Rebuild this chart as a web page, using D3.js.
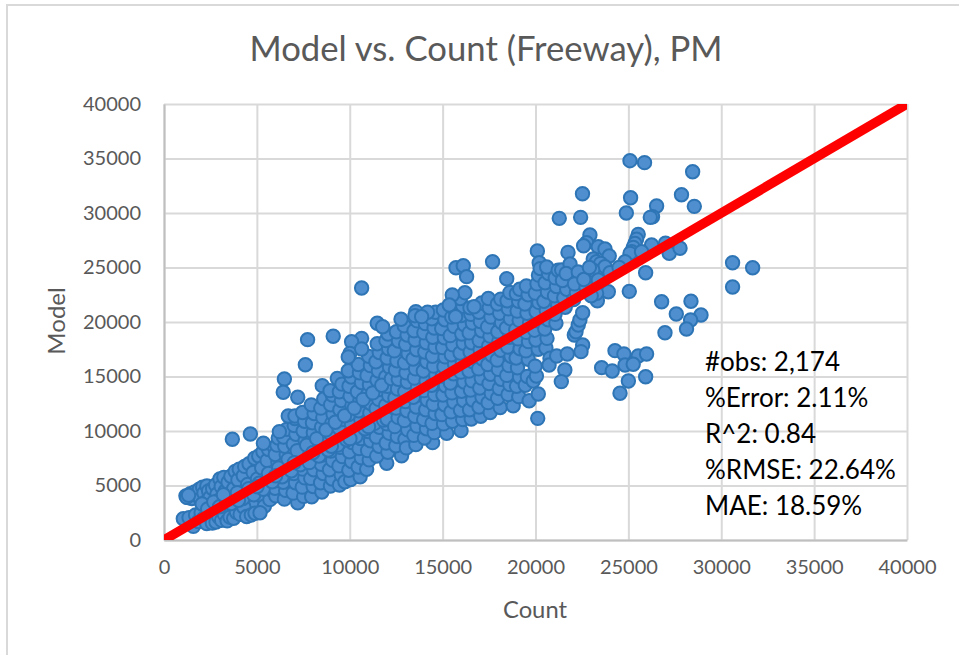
<!DOCTYPE html>
<html>
<head>
<meta charset="utf-8">
<script src="https://cdn.jsdelivr.net/npm/d3@7"></script>
<style>
html, body { margin: 0; padding: 0; background: #fff; }
svg { display: block; font-family: Lato, "Open Sans", sans-serif; }
</style>
</head>
<body>
<div id="chart"></div>
<script>
// Chart text and ticks
const chartTitle = "Model vs. Count (Freeway), PM";
const xLabel = "Count";
const yLabel = "Model";
const tickValues = [0, 5000, 10000, 15000, 20000, 25000, 30000, 35000, 40000];
const statLines = ["#obs: 2,174", "%Error: 2.11%", "R^2: 0.84", "%RMSE: 22.64%", "MAE: 18.59%"];
const referenceLine = [0, 40000];

// Points as [count, model] in groups
const pointsUnder6k = [
  [1180,4050],[1290,3900],[1420,4250],[1500,3800],[1650,4400],[1780,4150],[1900,4650],[1960,3750],[2080,4850],[2150,4300],
  [2240,3500],[2310,4950],[2400,4500],[2480,3900],[2550,3100],[2620,4700],[2700,2600],[2780,5050],[2850,4200],[2920,3600],
  [3010,5600],[3080,4900],[3150,3300],[3220,5750],[3300,4500],[3380,2800],[3450,5300],[3520,3950],[3600,5850],[3680,2400],
  [3750,4700],[3830,6300],[3900,3300],[3980,5500],[4050,6500],[4120,4250],[4190,2900],[4270,5900],[4340,6750],[4420,3600],
  [4500,5100],[4580,7000],[4650,2700],[4720,4500],[4800,6200],[4880,7500],[4950,3400],[5030,5600],[5100,7700],[5180,4100],
  [5260,6600],[5330,8100],[5400,3100],[5480,5000],[5550,7300],[5630,8300],[5700,3700],[5780,5900],[5860,4500],[5940,8500],
  [1040,1950],[1350,2050],[1580,1250],[1700,2300],[1850,1700],[2000,2500],[2120,1950],[2300,1500],[2420,2200],[2600,1550],
  [2800,1650],[2950,2100],[3100,1800],[3250,2350],[3400,1750],[3550,2100],[3750,2000],[3900,2550],[4100,2350],[4300,3000],
  [4450,2150],[4700,2300],[4900,2450],[5170,2500],[1220,3920],[1320,4100],[3680,9240],[4650,9720],[5350,8870]
];

const points6kTo12k = [
  [6020,4050],[5980,4750],[6100,5450],[6040,6300],[6130,7150],[5990,7850],[6080,8700],[6150,9350],
  [6480,3750],[6550,4550],[6420,5300],[6530,6250],[6460,6950],[6580,7850],[6500,8600],[6430,9450],[6600,10150],[6210,9940],
  [7200,3420],[6950,4300],[7080,5250],[6990,6100],[7120,7000],[7030,7950],[6960,8800],[7100,9700],[7010,10500],[7050,11150],[6690,11380],[7050,11380],
  [7520,4000],[7440,4850],[7580,5700],[7470,6500],[7550,7400],[7430,8300],[7600,9100],[7490,10000],[7570,10900],[7460,11700],
  [7950,3970],[8030,4900],[7900,5650],[8060,6450],[7970,7350],[8100,8150],[7920,9050],[8040,9850],[7990,10750],[8080,11600],[7930,12400],
  [8500,4400],[8430,5250],[8570,6100],[8460,6950],[8530,7800],[8410,8700],[8590,9500],[8480,10350],[8550,11250],[8440,12100],[8520,14160],[8600,12950],
  [8960,4950],[9050,5600],[8910,6450],[9080,7300],[8980,8150],[9120,9000],[8940,9800],[9030,10700],[9100,11550],[8970,12400],[9060,13300],[8940,13700],
  [9450,5050],[9540,5950],[9420,6800],[9600,7650],[9480,8500],[9560,9400],[9430,10250],[9590,11050],[9470,11950],[9550,12800],[9440,13600],[9330,14830],[9580,14300],
  [9740,5350],[10050,5550],[9950,6400],[10100,7200],[9980,8100],[10130,8950],[10000,9800],[10090,10650],[9940,11500],[10120,12350],[10020,13200],[9960,14100],[10080,14950],[9920,15530],
  [10560,5800],[10450,6700],[10620,7550],[10500,8400],[10580,9300],[10430,10150],[10600,11000],[10480,11850],[10540,12750],[10410,13600],[10630,14450],[10520,15350],[10460,16100],
  [10910,6490],[11050,7350],[10960,8200],[11120,9100],[11000,9950],[10940,10800],[11080,11650],[11150,12500],[10980,13400],[11060,14250],[10930,15100],[11110,16000],[11020,16850],
  [11990,7040],[11450,7700],[11580,8600],[11430,9450],[11600,10350],[11500,11200],[11420,12050],[11560,12900],[11620,13800],[11470,14650],[11540,15500],[11410,16350],[11590,17200],[11480,18000],
  [12050,8050],[11960,8900],[12120,9800],[12000,10650],[12070,11500],[11930,12350],[12100,13250],[12020,14100],[11940,14950],[12140,15850],[12010,16700],[12090,17550],[11950,18300],[12060,18900]
];

const points12kTo17k = [
  [12790,7730],[12480,8650],[12560,9500],[12420,10400],[12600,11250],[12500,12100],[12430,13000],[12570,13850],[12610,14750],[12460,15600],[12540,16450],[12400,17350],[12620,18250],[12510,19100],
  [12970,9240],[13050,8450],[13120,10100],[12940,10950],[13080,11850],[13000,12700],[12960,13600],[13100,14500],[13030,15350],[12950,16250],[13140,17100],[13010,17950],[13090,18800],[12930,19650],
  [13560,8750],[13450,9600],[13620,10450],[13500,11350],[13580,12200],[13420,13100],[13640,13950],[13480,14850],[13540,15700],[13410,16600],[13600,17450],[13520,18350],[13460,19200],[13630,20100],
  [14460,8930],[14020,9350],[14130,10200],[13980,11050],[14090,11950],[14170,12850],[14000,13700],[14110,14600],[13960,15500],[14150,16350],[14040,17250],[14120,18100],[13990,19000],[14070,19850],
  [14550,9850],[14430,10700],[14600,11600],[14490,12450],[14570,13350],[14410,14200],[14630,15100],[14520,15950],[14450,16850],[14590,17700],[14470,18600],[14540,19450],[14420,20300],[14620,20900],
  [15220,9790],[15050,10650],[14960,11500],[15110,12400],[15020,13300],[15150,14150],[14980,15050],[15070,15900],[15130,16800],[15000,17650],[15090,18550],[14950,19400],[15120,20200],[15040,21100],
  [15990,10030],[15530,10900],[15450,11750],[15600,12650],[15500,13500],[15420,14400],[15580,15250],[15640,16150],[15470,17000],[15550,17900],[15410,18750],[15610,19600],[15490,20450],[15570,21300],
  [16080,11050],[15960,11900],[16130,12800],[16020,13650],[16150,14500],[15980,15400],[16060,16300],[15940,17150],[16110,18050],[16030,18900],[16170,19750],[16000,20600],[16090,21450],[15950,22150],
  [16540,11100],[16450,11950],[16620,12850],[16500,13750],[16580,14600],[16420,15500],[16640,16350],[16480,17250],[16560,18100],[16430,19000],[16600,19900],[16520,20700],[16470,21300]
];

const points17kTo22k = [
  [17050,11350],[16960,12200],[17120,13100],[17000,13950],[17080,14850],[16940,15700],[17140,16600],[17020,17450],[16970,18300],[17100,19200],[17030,20050],[16950,20900],[17110,21750],
  [17560,11700],[17450,12600],[17620,13450],[17500,14350],[17580,15200],[17430,16100],[17640,16950],[17480,17800],[17550,18700],[17420,19550],[17600,20450],[17510,21300],[17460,22150],
  [18100,12150],[17960,13000],[18050,13900],[18150,14750],[18000,15650],[17930,16500],[18120,17400],[18030,18250],[17970,19100],[18170,19950],[18070,20800],[17950,21650],[18130,22100],
  [18800,12320],[18520,13350],[18620,14250],[18450,15100],[18570,16000],[18680,16850],[18500,17700],[18600,18600],[18430,19450],[18650,20300],[18540,21200],[18470,21950],[18620,22700],
  [19100,13150],[18980,14100],[19140,14950],[19030,15800],[18960,16700],[19170,17550],[19060,18450],[18940,19300],[19120,20150],[19010,21000],[19090,21900],[18970,22600],[19150,23000],
  [19660,12780],[19450,14200],[19560,15000],[19880,14590],[19610,16580],[19480,17350],[19620,18200],[19500,19050],[19680,19950],[19540,20800],[19430,21650],[19600,22500],[19510,23300],
  [20120,11160],[20150,13400],[20050,15050],[19980,15950],[20140,17500],[20020,18350],[19950,19250],[20110,20100],[20030,20950],[20180,21800],[19990,22650],[20080,23500],[20160,24300],[20100,26510],[20200,25440],[20250,24900],
  [20560,17610],[20780,16670],[20730,16050],[20620,18500],[20500,19350],[20680,20200],[20580,21050],[20450,21900],[20640,22750],[20520,23600],[20700,24450],[20600,25050],
  [21100,19880],[21140,16880],[21050,20700],[21200,21550],[21020,22400],[21130,23250],[21060,24050],[21220,24750],[21410,24770],[21280,29510],
  [21710,17060],[21580,15600],[21390,14530],[21600,21350],[21520,22200],[21680,23000],[21450,23800],[21750,26390],[21860,25320],[21650,24450],
  [22090,18810],[22180,19110],[22300,19720],[22390,20180],[22540,20850],[22540,17890],[22450,17280],[22300,24590],[22050,22050],[22200,22700],[22100,23500]
];

const pointsOutlying = [
  [25087,34800],[25870,34620],[28460,33790],[22530,31770],[25120,31400],[27860,31680],[28550,30610],[26520,30640],[24890,30000],[26300,29660],
  [26180,29600],[22430,29600],[22930,27980],[22750,27270],[22590,27000],[25530,28040],[25440,27590],[25350,27210],[25260,26850],[25180,26450],
  [25090,26300],[26250,27060],[27000,27220],[27200,26300],[27780,26760],[25710,26450],[24820,25530],[23380,26910],[23740,26700],[23970,26050],
  [23110,25780],[23290,25530],[23510,25380],[23740,25070],[23080,24770],[24010,24520],[23380,23850],[23920,22780],[23330,21950],[23290,22630],
  [25050,22810],[25930,24520],[30610,25440],[31690,24980],[30610,23210],[26790,21860],[28370,21900],[27580,20730],[28910,20640],[28350,20180],
  [28130,19360],[26970,19020],[17690,25530],[18450,23970],[24280,17370],[24760,17060],[25530,16880],[25980,17060],[24820,16050],[25260,16120],
  [23560,15810],[24130,15500],[25930,14980],[25000,14590],[24550,13460],[10640,23120],[15720,24980],[16110,25160],[16290,24160],[16200,22690],
  [15520,22480],[15360,21560],[16690,21400],[15700,20490],[13560,20950],[14190,20890],[13510,20580],[13870,20490],[12760,20250],[11480,19880],
  [11770,19570],[9110,18690],[7730,18380],[7610,16080],[6480,14770],[6420,13550],[7200,13090],[10640,18500],[10100,18190],[10010,17120],
  [9920,16790],[10640,17520],[22720,23200],[23000,22400],[22600,23900],[22900,25000],[24500,25000]
];

// The dense core around the red line, where the outlines overlap most
const pointsNearLine = [
  [2050,3300],[2350,2850],[2680,3500],[2990,3050],[3330,3800],[3620,3350],[3950,4350],[4240,3800],[4560,4700],[4830,4150],
  [5120,5200],[5340,4650],[5620,6100],[5830,5350],[6170,6600],[6360,5800],[6680,7400],[6860,6350],[7170,8200],[7340,6900],
  [7680,8700],[7820,7100],[8220,9300],[8340,7700],[8720,10100],[8840,8250],[9220,10800],[9350,8700],[9720,11400],[9830,9200],
  [10240,12100],[10330,9500],[10720,12900],[10820,10200],[11240,13500],[11330,10700],[11720,14200],[11820,11000],[12240,14800],[12330,11400],
  [12720,15300],[12820,12150],[13240,16000],[13300,12500],[13730,16500],[13820,13000],[14250,17000],[14310,13400],[14730,17500],[14820,13900],
  [15270,18000],[15320,14200],[15740,18400],[15830,14800],[16270,18700],[16330,15100],[16740,19300],[16830,15300],[17240,19700],[17300,15800],
  [17730,20100],[17820,16300],[18260,20500],[18320,16700],[18740,21000],[18830,17300],[19240,21300],[19310,18000],[19730,21700],[19820,18700],
  [20290,22300],[20340,19800],[20840,22900],[20900,20500],[3200,4150],[4010,3650],[5010,4900],[6010,5900],[7020,7100],[8010,8000],
  [9010,8600],[10010,9300],[11010,10400],[12010,11100],[13010,12300],[14010,13200],[15010,14400],[16010,15800],[17010,16200],[18010,17800]
];

const pointGroups = [pointsUnder6k, points6kTo12k, pointsNearLine, points12kTo17k, points17kTo22k, pointsOutlying];

const width = 959, height = 655;
const margin = { left: 164, right: 52, top: 104, bottom: 115 };
const plotW = width - margin.left - margin.right;
const plotH = height - margin.top - margin.bottom;
const textGrey = "#595959";

const svg = d3.select("#chart").append("svg")
  .attr("width", width)
  .attr("height", height);

svg.append("rect").attr("width", width).attr("height", height).attr("fill", "#fff");

// Chart frame, only the top and left edges are in the crop
svg.append("path")
  .attr("d", d3.line()([[7, height], [7, 5], [width, 5]]))
  .attr("fill", "none")
  .attr("stroke", "#d9d9d9")
  .attr("stroke-width", 2);

svg.append("text")
  .attr("x", 486)
  .attr("y", 61)
  .attr("text-anchor", "middle")
  .attr("font-size", 34.7)
  .attr("fill", textGrey)
  .text(chartTitle);

const x = d3.scaleLinear().domain([0, 40000]).range([0, plotW]);
const y = d3.scaleLinear().domain([0, 40000]).range([plotH, 0]);

const plot = svg.append("g")
  .attr("transform", "translate(" + margin.left + "," + margin.top + ")");

plot.append("clipPath").attr("id", "plotClip")
  .append("rect").attr("width", plotW).attr("height", plotH);

// Gridlines
const gridX = plot.append("g")
  .attr("transform", "translate(0," + plotH + ")")
  .call(d3.axisBottom(x).tickValues(tickValues).tickSize(-plotH).tickFormat(""));
const gridY = plot.append("g")
  .call(d3.axisLeft(y).tickValues(tickValues).tickSize(-plotW).tickFormat(""));
[gridX, gridY].forEach(function(g) {
  g.select(".domain").remove();
  g.selectAll("line").attr("stroke", "#d9d9d9").attr("stroke-width", 2);
});

// Axes with their labels
const axisX = plot.append("g")
  .attr("transform", "translate(0," + plotH + ")")
  .call(d3.axisBottom(x).tickValues(tickValues).tickSize(0).tickPadding(20).tickFormat(d3.format("d")));
const axisY = plot.append("g")
  .call(d3.axisLeft(y).tickValues(tickValues).tickSize(0).tickPadding(23).tickFormat(d3.format("d")));
[axisX, axisY].forEach(function(g) {
  g.select(".domain").attr("stroke", "#bfbfbf").attr("stroke-width", 2);
  g.selectAll("text").attr("font-size", 20).attr("font-family", "Lato").attr("fill", textGrey);
});

svg.append("text")
  .attr("x", 535)
  .attr("y", 618)
  .attr("text-anchor", "middle")
  .attr("font-size", 23.8)
  .attr("fill", textGrey)
  .text(xLabel);

svg.append("text")
  .attr("transform", "translate(65,321) rotate(-90)")
  .attr("text-anchor", "middle")
  .attr("font-size", 24)
  .attr("fill", textGrey)
  .text(yLabel);

// Points
plot.append("g").selectAll("circle")
  .data(pointGroups.flat())
  .enter().append("circle")
  .attr("cx", function(d) { return x(d[0]); })
  .attr("cy", function(d) { return y(d[1]); })
  .attr("r", 6.7)
  .attr("fill", "#4f8fcf")
  .attr("stroke", "#2e75b6")
  .attr("stroke-width", 2);

// Red 1:1 line over the points
plot.append("line")
  .attr("clip-path", "url(#plotClip)")
  .attr("x1", x(referenceLine[0]))
  .attr("y1", y(referenceLine[0]))
  .attr("x2", x(referenceLine[1]))
  .attr("y2", y(referenceLine[1]))
  .attr("stroke", "#ff0000")
  .attr("stroke-width", 9.5);

// Stats box
svg.append("g").selectAll("text")
  .data(statLines)
  .enter().append("text")
  .attr("x", 705)
  .attr("y", function(d, i) { return 371 + i * 36; })
  .attr("font-size", 26)
  .attr("fill", "#000")
  .text(function(d) { return d; });
</script>
</body>
</html>
